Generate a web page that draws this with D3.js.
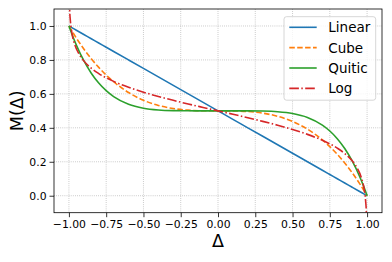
<!DOCTYPE html>
<html>
<head>
<meta charset="utf-8">
<script src="https://cdn.jsdelivr.net/npm/d3@7"></script>
<style>
  body { margin: 0; background: #fff; }
  svg { display: block; font-family: "DejaVu Sans", sans-serif; }
</style>
</head>
<body>
<svg id="chart" width="392" height="262"></svg>
<script>
// values
var deltas = [-1, -0.975, -0.95, -0.9, -0.85, -0.8, -0.75, -0.7, -0.6, -0.5, -0.4, -0.3, -0.2, -0.1, 0,
	0.1, 0.2, 0.3, 0.4, 0.5, 0.6, 0.7, 0.75, 0.8, 0.85, 0.9, 0.95, 0.975, 1];

var linear = [1, 0.9875, 0.975, 0.95, 0.925, 0.9, 0.875, 0.85, 0.8, 0.75, 0.7, 0.65, 0.6, 0.55, 0.5,
	0.45, 0.4, 0.35, 0.3, 0.25, 0.2, 0.15, 0.125, 0.1, 0.075, 0.05, 0.025, 0.0125, 0];

var cube = [1, 0.9634, 0.9287, 0.8645, 0.8071, 0.756, 0.7109, 0.6715, 0.608, 0.5625, 0.532, 0.5135, 0.504, 0.5005, 0.5,
	0.4995, 0.496, 0.4865, 0.468, 0.4375, 0.392, 0.3285, 0.2891, 0.244, 0.1929, 0.1355, 0.0713, 0.0366, 0];

var quitic = [1, 0.9405, 0.8869, 0.7952, 0.7219, 0.6638, 0.6187, 0.584, 0.5389, 0.5156, 0.5051, 0.5012, 0.5002, 0.5, 0.5,
	0.5, 0.4998, 0.4988, 0.4949, 0.4844, 0.4611, 0.416, 0.3813, 0.3362, 0.2781, 0.2048, 0.1131, 0.0595, 0];

var logDeltas = [-0.999, -0.995, -0.99, -0.98, -0.96, -0.93, -0.9, -0.85, -0.8, -0.7, -0.6, -0.5, -0.4, -0.3, -0.2, -0.1, 0,
	0.1, 0.2, 0.3, 0.4, 0.5, 0.6, 0.7, 0.8, 0.85, 0.9, 0.93, 0.96, 0.98, 0.99, 0.995, 0.999];

var logValues = [1.26, 1.0989, 1.0293, 0.9595, 0.8892, 0.8317, 0.7944, 0.7512, 0.7197, 0.6735, 0.6386, 0.6099, 0.5847, 0.5619, 0.5405, 0.5201, 0.5,
	0.4799, 0.4595, 0.4381, 0.4153, 0.3901, 0.3614, 0.3265, 0.2803, 0.2488, 0.2056, 0.1683, 0.1108, 0.0405, -0.0293, -0.0989, -0.26];

var seriesNames = ["Linear", "Cube", "Quitic", "Log"];
var seriesColors = ["#1f77b4", "#ff7f0e", "#2ca02c", "#d62728"];
var seriesDashes = [null, "5.5,2.4", null, "9.6,2.4,1.5,2.4"];

var xTicks = [-1, -0.75, -0.5, -0.25, 0, 0.25, 0.5, 0.75, 1];
var yTicks = [0, 0.2, 0.4, 0.6, 0.8, 1.0];

var svg = d3.select("#chart");
var plotLeft = 54, plotRight = 382, plotTop = 9, plotBottom = 212.7;

var x = d3.scaleLinear().domain([-1.1, 1.1]).range([plotLeft, plotRight]);
var y = d3.scaleLinear().domain([-0.1, 1.1]).range([plotBottom, plotTop]);

var minus = function(s) { return s.replace("-", "\u2212"); };

// grid
var grid = svg.append("g");
xTicks.forEach(function(t) {
	grid.append("line")
		.attr("x1", x(t)).attr("x2", x(t))
		.attr("y1", plotTop).attr("y2", plotBottom)
		.attr("stroke", "#b0b0b0").attr("stroke-width", 0.8)
		.attr("stroke-dasharray", "0.8,1.3");
});
yTicks.forEach(function(t) {
	grid.append("line")
		.attr("x1", plotLeft).attr("x2", plotRight)
		.attr("y1", y(t)).attr("y2", y(t))
		.attr("stroke", "#b0b0b0").attr("stroke-width", 0.8)
		.attr("stroke-dasharray", "0.8,1.3");
});

svg.append("clipPath").attr("id", "plotclip")
	.append("rect")
	.attr("x", plotLeft).attr("y", plotTop)
	.attr("width", plotRight - plotLeft).attr("height", plotBottom - plotTop);

var line = d3.line()
	.x(function(d) { return x(d[0]); })
	.y(function(d) { return y(d[1]); })
	.curve(d3.curveMonotoneX);

var series = [
	d3.zip(deltas, linear),
	d3.zip(deltas, cube),
	d3.zip(deltas, quitic),
	d3.zip(logDeltas, logValues)
];

var lines = svg.append("g").attr("clip-path", "url(#plotclip)");
series.forEach(function(pts, i) {
	lines.append("path")
		.attr("d", line(pts))
		.attr("fill", "none")
		.attr("stroke", seriesColors[i])
		.attr("stroke-width", 1.6)
		.attr("stroke-dasharray", seriesDashes[i]);
});

// axes
var xAxis = svg.append("g")
	.attr("transform", "translate(0," + plotBottom + ")")
	.call(d3.axisBottom(x).tickValues(xTicks).tickSize(4.5).tickPadding(3)
		.tickFormat(function(d) { return minus(d3.format(".2f")(d)); }));

var yAxis = svg.append("g")
	.attr("transform", "translate(" + plotLeft + ",0)")
	.call(d3.axisLeft(y).tickValues(yTicks).tickSize(4.5).tickPadding(3)
		.tickFormat(function(d) { return d3.format(".1f")(d); }));

[xAxis, yAxis].forEach(function(a) {
	a.attr("font-family", null).attr("font-size", null);
	a.select(".domain").remove();
	a.selectAll(".tick line").attr("stroke", "#000").attr("stroke-width", 0.8);
	a.selectAll(".tick text")
		.attr("fill", "#000")
		.style("font-family", "DejaVu Sans")
		.style("font-size", "10.8px");
});

// spines
svg.append("rect")
	.attr("x", plotLeft).attr("y", plotTop)
	.attr("width", plotRight - plotLeft).attr("height", plotBottom - plotTop)
	.attr("fill", "none").attr("stroke", "#000").attr("stroke-width", 0.8);

svg.append("text")
	.attr("x", (plotLeft + plotRight) / 2)
	.attr("y", 247)
	.attr("text-anchor", "middle")
	.style("font-size", "17.5px")
	.text("\u0394");

svg.append("text")
	.attr("transform", "translate(23," + ((plotTop + plotBottom) / 2) + ") rotate(-90)")
	.attr("text-anchor", "middle")
	.style("font-size", "17.5px")
	.text("M(\u0394)");

// legend
var legend = svg.append("g");
legend.append("rect")
	.attr("x", 284).attr("y", 16.7)
	.attr("width", 91.7).attr("height", 83.5)
	.attr("rx", 2.5)
	.attr("fill", "#fff").attr("fill-opacity", 0.8)
	.attr("stroke", "#cccccc").attr("stroke-width", 0.8);

seriesNames.forEach(function(name, i) {
	var ly = 27.3 + i * 20.35;
	legend.append("line")
		.attr("x1", 289.3).attr("x2", 316.7)
		.attr("y1", ly).attr("y2", ly)
		.attr("stroke", seriesColors[i])
		.attr("stroke-width", 1.6)
		.attr("stroke-dasharray", seriesDashes[i]);
	legend.append("text")
		.attr("x", 328.3)
		.attr("y", ly)
		.attr("dy", "0.36em")
		.style("font-size", "13.5px")
		.text(name);
});
</script>
</body>
</html>
